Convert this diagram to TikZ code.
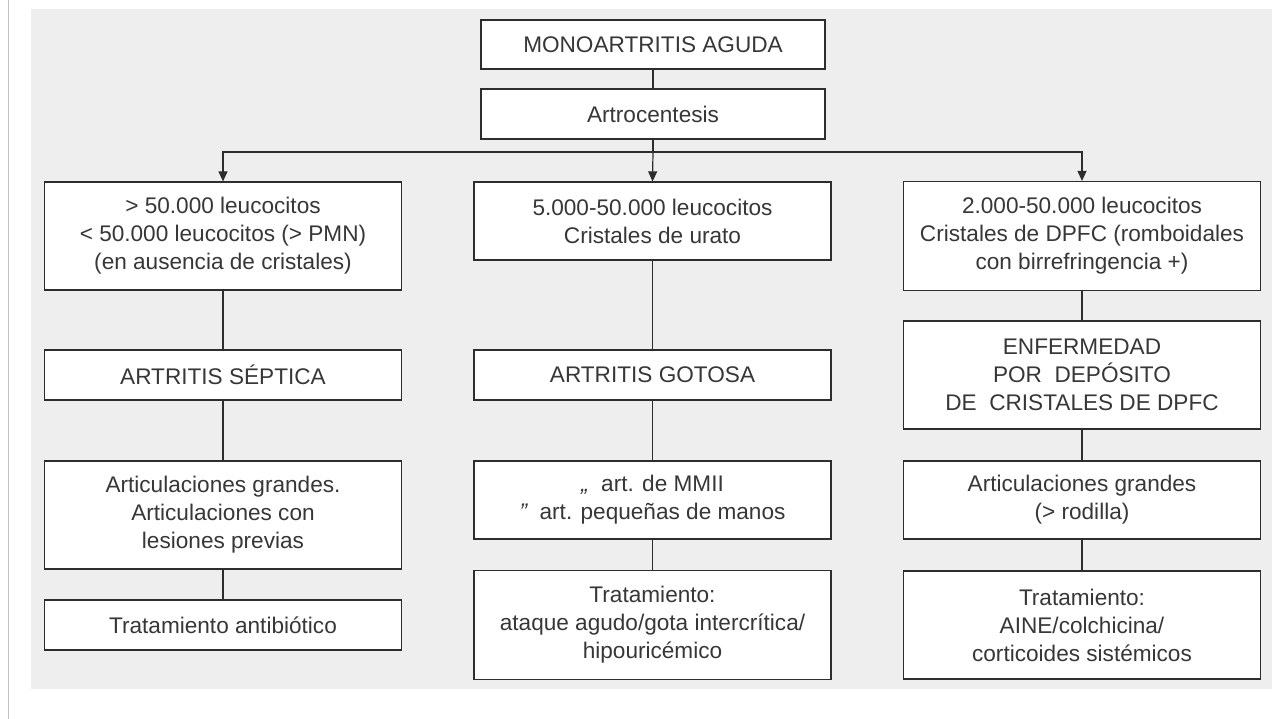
\documentclass[tikz,border=0pt]{standalone}
\usepackage{fontspec}
\setmainfont{Liberation Sans}
\usetikzlibrary{arrows.meta, positioning, calc}
\definecolor{panelgray}{RGB}{238, 238, 238}
\definecolor{rulegray}{RGB}{195, 195, 195}
\definecolor{inkgray}{RGB}{45, 45, 45}
\definecolor{textgray}{RGB}{55, 55, 55}
\tikzset{
    box/.style={rectangle, draw=inkgray, fill=white, line width=1.2pt, minimum width=357pt, inner sep=0pt, align=center, text=textgray, font=\fontsize{22.6}{28}\selectfont},
    topbox/.style={box, minimum width=344pt},
    link/.style={draw=inkgray, line width=1.2pt},
    arrow/.style={link, -{Triangle[width=9pt, length=10pt]}}
}

\begin{document}
\begin{tikzpicture}[x=1pt, y=-1pt]
    \useasboundingbox (0,0) rectangle (1285,719);

    % Background
    \draw[rulegray, line width=1.5pt] (8.5,0) -- (8.5,719);
    \fill[panelgray] (31,9) rectangle (1272,689);

    % Top
    \node[topbox, minimum height=49pt] (mono) at (653,44.5) {MONOARTRITIS AGUDA};
    \node[topbox, minimum height=50pt] (artro) at (653,114) {Artrocentesis};
    \coordinate (split) at (653,152);

    % Septic column
    \node[box, minimum height=108pt] (leuco) at (223,236) {> 50.000 leucocitos\\< 50.000 leucocitos (> PMN)\\(en ausencia de cristales)};
    \node[box, minimum height=50pt] (septica) at (223,375) {ARTRITIS SÉPTICA};
    \node[box, minimum height=108pt] (artsept) at (223,515) {Articulaciones grandes.\\Articulaciones con\\lesiones previas};
    \node[box, minimum height=50pt] (tratsept) at (223,625) {Tratamiento antibiótico};

    % Gout column
    \node[box, minimum height=78pt] (urato) at (652.5,221) {5.000-50.000 leucocitos\\Cristales de urato};
    \node[box, minimum height=50pt] (gotosa) at (652.5,375) {ARTRITIS GOTOSA};
    \node[box, minimum height=78pt] (artgota) at (652.5,500) {{\itshape „}\ \ art. de MMII\\{\itshape "}\ \ art. pequeñas de manos};
    \node[box, minimum height=109pt] (tratgota) at (652.5,625) {Tratamiento:\\ataque agudo/gota intercrítica/\\hipouricémico};

    % DPFC column
    \node[box, minimum height=109pt] (dpfc) at (1082,236) {2.000-50.000 leucocitos\\Cristales de DPFC (romboidales\\con birrefringencia +)};
    \node[box, minimum height=108pt] (enferm) at (1082,375) {ENFERMEDAD\\POR\ \ DEPÓSITO\\DE\ \ CRISTALES DE DPFC};
    \node[box, minimum height=78pt] (artdpfc) at (1082,500) {Articulaciones grandes\\(> rodilla)};
    \node[box, minimum height=108pt] (tratdpfc) at (1082,625) {Tratamiento:\\AINE/colchicina/\\corticoides sistémicos};

    % Connectors
    \draw[link] (mono) -- (artro);
    \draw[link] (artro) -- (split);
    \draw[arrow] (split) -| (leuco.north);
    \draw[arrow] (split) -- (urato.north);
    \draw[arrow] (split) -| (dpfc.north);

    \draw[link] (leuco) -- (septica) -- (artsept) -- (tratsept);
    \draw[link] (urato) -- (gotosa) -- (artgota) -- (tratgota);
    \draw[link] (dpfc) -- (enferm) -- (artdpfc) -- (tratdpfc);

\end{tikzpicture}
\end{document}
